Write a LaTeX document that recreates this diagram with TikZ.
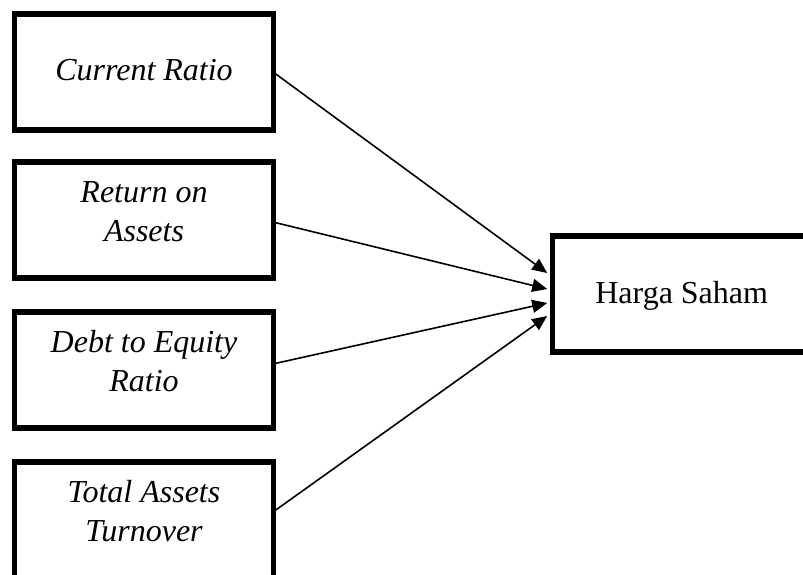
\documentclass[tikz,border=0pt]{standalone}
\usepackage{fontspec}
\setmainfont{Liberation Serif}
\usetikzlibrary{arrows.meta}
\begin{document}
\begin{tikzpicture}[x=1pt,y=-1pt,
  box/.style={draw=black,line width=5.2pt,inner sep=0pt,minimum width=258.4pt,minimum height=116pt},
  txt/.style={inner sep=0pt,align=center,font=\fontsize{32}{39}\selectfont\itshape},
  arr/.style={draw=black,line width=1.6pt,-{Triangle[length=15pt,width=13pt]}}]
\clip (0,0) rectangle (803,574);
\fill[white] (0,0) rectangle (803,574);
\node[box] (b1) at (144,72) {};
\node[box] (b2) at (144,220) {};
\node[box] (b3) at (144,370) {};
\node[box] (b4) at (144,520) {};
\node[box] (b5) at (681.5,294) {};
\node[txt,anchor=base] (t1) at (144,80) {Current Ratio};
\node[txt,anchor=base] (t2) at (144,241.7) {Return on\\Assets};
\node[txt,anchor=base] (t3) at (144,391.7) {Debt to Equity\\Ratio};
\node[txt,anchor=base] (t4) at (144,541.7) {Total Assets\\Turnover};
\node[txt,font=\fontsize{32}{39}\selectfont,anchor=base] (t5) at (681.7,303.3) {Harga Saham};
\draw[arr] ([yshift=-2pt]b1.east) -- ([xshift=-2.5pt,yshift=21pt]b5.west);
\draw[arr] ([yshift=-2.7pt]b2.east) -- ([xshift=-2.5pt,yshift=5pt]b5.west);
\draw[arr] ([yshift=6.7pt]b3.east) -- ([xshift=-2.5pt,yshift=-9pt]b5.west);
\draw[arr] ([yshift=10pt]b4.east) -- ([xshift=-2.5pt,yshift=-22pt]b5.west);
\end{tikzpicture}
\end{document}
